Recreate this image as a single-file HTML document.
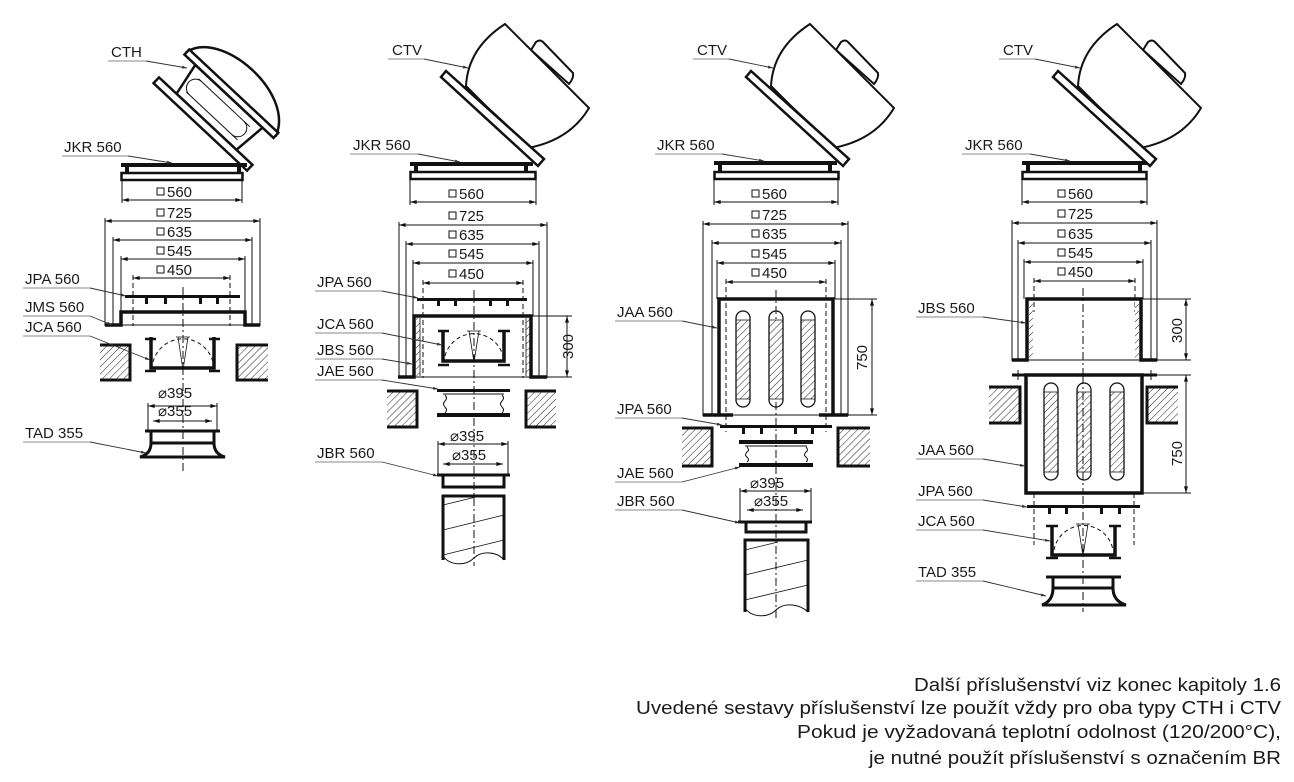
<!DOCTYPE html>
<html><head><meta charset="utf-8"><style>
html,body{margin:0;padding:0;background:#fff;}
svg{display:block;}
text{font-family:"Liberation Sans",Arial,sans-serif;fill:#1a1a1a;}
</style></head><body>
<svg width="1294" height="782" viewBox="0 0 1294 782" xmlns="http://www.w3.org/2000/svg">
<defs>
<pattern id="h" width="5" height="5" patternUnits="userSpaceOnUse" patternTransform="rotate(45)">
<rect width="5" height="5" fill="#fff"/><line x1="0" y1="0" x2="0" y2="5" stroke="#222" stroke-width="1"/></pattern>
<marker id="a" viewBox="0 0 10 6" refX="10" refY="3" markerWidth="8" markerHeight="4" orient="auto-start-reverse" markerUnits="userSpaceOnUse"><path d="M0,0 L10,3 L0,6 Z" fill="#111"/></marker>
<marker id="s" viewBox="0 0 10 6" refX="10" refY="3" markerWidth="6" markerHeight="3" orient="auto" markerUnits="userSpaceOnUse"><path d="M0,0 L10,3 L0,6 Z" fill="#333"/></marker>
<g id="ctv">
<path d="M531,50 L536,42 Q540,39 543,42 L573,73 Q574,78 569,84 Z" fill="#fff" stroke="#111" stroke-width="2"/>
<path d="M466,86 Q468,48 505,24 L589,108 Q570,140 528,148 Z" fill="#fff" stroke="#111" stroke-width="2"/>
<polygon points="441,77 446,71 544,159 538,166" fill="#fff" stroke="#111" stroke-width="2.5"/>
<line x1="465" y1="86" x2="530" y2="146" stroke="#111" stroke-width="1"/>
</g>
</defs>
<g fill="none" stroke="#111">

<!-- ================= COLUMN 1 ================= -->
<g transform="translate(203,124) rotate(43.1)">
<path d="M-61,-42 C-50,-82 45,-85 61,-42 Z" fill="#fff" stroke-width="2.5"/>
<polygon points="-40,-4 -46,-38 46,-38 42,-4" fill="#fff" stroke-width="2.5"/>
<rect x="-61" y="-45" width="122" height="7" fill="#fff" stroke-width="2.5"/>
<line x1="-34" y1="-30" x2="36" y2="-30" stroke-width="1"/>
<line x1="-34" y1="-12" x2="36" y2="-12" stroke-width="1"/>
<path d="M-30,-12 a8,8 0 0 1 0,-18 M28,-12 a8,8 0 0 0 0,-18" stroke-width="1"/>
<rect x="-64" y="-4" width="128" height="8" fill="#fff" stroke-width="2.5"/>
</g>
<rect x="121" y="163" width="126" height="4" fill="#111" stroke="none"/>
<rect x="125" y="167" width="4" height="6" fill="#111" stroke="none"/>
<rect x="237" y="167" width="4" height="6" fill="#111" stroke="none"/>
<rect x="121.5" y="173" width="121" height="7" stroke-width="2.5"/>
<g stroke-width="1">
<line x1="122" y1="180" x2="122" y2="203"/><line x1="242" y1="180" x2="242" y2="203"/>
<line x1="122" y1="200" x2="242" y2="200" marker-start="url(#a)" marker-end="url(#a)"/>
<line x1="105" y1="218" x2="105" y2="326"/><line x1="260" y1="218" x2="260" y2="326"/>
<line x1="105" y1="221" x2="260" y2="221" marker-start="url(#a)" marker-end="url(#a)"/>
<line x1="113" y1="237" x2="113" y2="326"/><line x1="252" y1="237" x2="252" y2="326"/>
<line x1="113" y1="240" x2="252" y2="240" marker-start="url(#a)" marker-end="url(#a)"/>
<line x1="121" y1="256" x2="121" y2="312"/><line x1="245" y1="256" x2="245" y2="312"/>
<line x1="121" y1="259" x2="245" y2="259" marker-start="url(#a)" marker-end="url(#a)"/>
<line x1="133" y1="275" x2="133" y2="326" stroke-dasharray="5,3"/><line x1="230" y1="275" x2="230" y2="326" stroke-dasharray="5,3"/>
<line x1="133" y1="278" x2="230" y2="278" marker-start="url(#a)" marker-end="url(#a)"/>
<line x1="183" y1="287" x2="183" y2="472" stroke-dasharray="8,3,2,3"/>
</g>
<rect x="125" y="295" width="115" height="3" fill="#111" stroke="none"/>
<g fill="#111" stroke="none"><rect x="145" y="298" width="3" height="6"/><rect x="164" y="298" width="3" height="6"/><rect x="199" y="298" width="3" height="6"/><rect x="216" y="298" width="3" height="6"/></g>
<path d="M105,325 H121 V312 H245 V325 H260" stroke-width="3.5"/>
<line x1="121" y1="325" x2="245" y2="325" stroke-width="1"/>
<path d="M151,337 V368 H214 V337" stroke-width="3.5"/>
<path d="M145,339 H156 M209,339 H220 M145,371 H156 M209,371 H220" stroke-width="2.5"/>
<path d="M153,362 A31,31 0 0 1 213,362" stroke-width="1" stroke-dasharray="4,3"/>
<path d="M183,370 L178,337 M183,370 L188,337 M176,337 H190" stroke-width="0.8"/>
<rect x="100" y="345" width="30" height="35" fill="url(#h)" stroke="none"/>
<path d="M100,345 H130 V380 H100" stroke-width="3"/>
<rect x="237" y="345" width="31" height="35" fill="url(#h)" stroke="none"/>
<path d="M268,345 H237 V380 H268" stroke-width="3"/>
<g stroke-width="1">
<line x1="148" y1="403" x2="148" y2="432"/><line x1="217" y1="403" x2="217" y2="432"/>
<line x1="148" y1="406" x2="217" y2="406" marker-start="url(#a)" marker-end="url(#a)"/>
<line x1="153" y1="421" x2="212" y2="421" marker-start="url(#a)" marker-end="url(#a)"/>
</g>
<line x1="145" y1="431" x2="220" y2="431" stroke-width="3"/>
<path d="M151,431 V443 H214 V431" stroke-width="3"/>
<path d="M151,443 Q151,454 140,457 H225 Q214,454 214,443" stroke-width="3"/>

<!-- ================= COLUMN 2 ================= -->
<use href="#ctv"/>
<rect x="410" y="162" width="123" height="4" fill="#111" stroke="none"/>
<rect x="414" y="166" width="4" height="6" fill="#111" stroke="none"/>
<rect x="524" y="166" width="4" height="6" fill="#111" stroke="none"/>
<rect x="410.5" y="172" width="125" height="7" stroke-width="2.5"/>
<g stroke-width="1">
<line x1="410" y1="179" x2="410" y2="205"/><line x1="536" y1="179" x2="536" y2="205"/>
<line x1="410" y1="202" x2="536" y2="202" marker-start="url(#a)" marker-end="url(#a)"/>
<line x1="399" y1="222" x2="399" y2="378"/><line x1="547" y1="222" x2="547" y2="378"/>
<line x1="399" y1="225" x2="547" y2="225" marker-start="url(#a)" marker-end="url(#a)"/>
<line x1="406" y1="241" x2="406" y2="378"/><line x1="539" y1="241" x2="539" y2="378"/>
<line x1="406" y1="244" x2="539" y2="244" marker-start="url(#a)" marker-end="url(#a)"/>
<line x1="413" y1="260" x2="413" y2="316"/><line x1="533" y1="260" x2="533" y2="316"/>
<line x1="413" y1="263" x2="533" y2="263" marker-start="url(#a)" marker-end="url(#a)"/>
<line x1="423" y1="280" x2="423" y2="378" stroke-dasharray="5,3"/><line x1="523" y1="280" x2="523" y2="378" stroke-dasharray="5,3"/>
<line x1="423" y1="283" x2="523" y2="283" marker-start="url(#a)" marker-end="url(#a)"/>
<line x1="474" y1="290" x2="474" y2="566" stroke-dasharray="8,3,2,3"/>
<line x1="532" y1="316" x2="572" y2="316"/><line x1="547" y1="377" x2="572" y2="377"/>
<line x1="567" y1="316" x2="567" y2="377" marker-start="url(#a)" marker-end="url(#a)"/>
</g>
<rect x="417" y="298" width="110" height="3" fill="#111" stroke="none"/>
<g fill="#111" stroke="none"><rect x="437" y="301" width="3" height="5"/><rect x="454" y="301" width="3" height="5"/><rect x="489" y="301" width="3" height="5"/><rect x="506" y="301" width="3" height="5"/></g>
<rect x="416" y="318" width="4" height="58" fill="url(#h)" stroke="none"/>
<rect x="526" y="318" width="4" height="58" fill="url(#h)" stroke="none"/>
<path d="M398,377 H414 V316 H531 V377 H547" stroke-width="3.5"/>
<line x1="414" y1="377" x2="531" y2="377" stroke-width="1"/>
<line x1="420" y1="318" x2="420" y2="376" stroke-width="0.8"/><line x1="526" y1="318" x2="526" y2="376" stroke-width="0.8"/>
<path d="M443,330 V361 H504 V330" stroke-width="3.5"/>
<path d="M438,331 H449 M498,331 H510 M438,365 H449 M498,365 H510" stroke-width="2.5"/>
<path d="M445,356 A30,30 0 0 1 503,356" stroke-width="1" stroke-dasharray="4,3"/>
<path d="M474,362 L469,331 M474,362 L479,331 M467,331 H481" stroke-width="0.8"/>
<rect x="437" y="389" width="73" height="3" fill="#111" stroke="none"/>
<line x1="443" y1="394" x2="504" y2="394" stroke-width="1"/>
<rect x="437" y="413" width="73" height="4" fill="#111" stroke="none"/>
<path d="M445,395 q3,3 0,6 q-3,3 0,6 q3,3 0,6 M502,395 q3,3 0,6 q-3,3 0,6 q3,3 0,6" stroke-width="1"/>
<rect x="387" y="391" width="30" height="36" fill="url(#h)" stroke="none"/>
<path d="M387,391 H417 V427 H387" stroke-width="3"/>
<rect x="526" y="391" width="30" height="36" fill="url(#h)" stroke="none"/>
<path d="M556,391 H526 V427 H556" stroke-width="3"/>
<g stroke-width="1">
<line x1="438" y1="441" x2="438" y2="476"/><line x1="508" y1="441" x2="508" y2="476"/>
<line x1="438" y1="444" x2="508" y2="444" marker-start="url(#a)" marker-end="url(#a)"/>
<line x1="443" y1="464" x2="503" y2="464" marker-start="url(#a)" marker-end="url(#a)"/>
</g>
<line x1="437" y1="475" x2="510" y2="475" stroke-width="3"/>
<path d="M443,475 V487 H504 V475" stroke-width="3"/>
<path d="M443,560 V496 H504 V560" stroke-width="3"/>
<path d="M443,556 C450,566 466,566 474,558 C482,550 498,552 504,560" stroke-width="1"/>
<path d="M443,505 L476,497 M443,530 L504,515 M443,555 L504,540" stroke-width="0.8"/>

<!-- ================= COLUMN 3 ================= -->
<use href="#ctv" x="305"/>
<rect x="714" y="161" width="123" height="4" fill="#111" stroke="none"/>
<rect x="718" y="165" width="4" height="7" fill="#111" stroke="none"/>
<rect x="828" y="165" width="4" height="7" fill="#111" stroke="none"/>
<rect x="714.5" y="172" width="124" height="7" stroke-width="2.5"/>
<g stroke-width="1">
<line x1="714" y1="179" x2="714" y2="205"/><line x1="838" y1="179" x2="838" y2="205"/>
<line x1="714" y1="202" x2="838" y2="202" marker-start="url(#a)" marker-end="url(#a)"/>
<line x1="703" y1="221" x2="703" y2="416"/><line x1="848" y1="221" x2="848" y2="416"/>
<line x1="703" y1="224" x2="848" y2="224" marker-start="url(#a)" marker-end="url(#a)"/>
<line x1="712" y1="240" x2="712" y2="416"/><line x1="841" y1="240" x2="841" y2="416"/>
<line x1="712" y1="243" x2="841" y2="243" marker-start="url(#a)" marker-end="url(#a)"/>
<line x1="717" y1="260" x2="717" y2="299"/><line x1="835" y1="260" x2="835" y2="299"/>
<line x1="717" y1="263" x2="835" y2="263" marker-start="url(#a)" marker-end="url(#a)"/>
<line x1="726" y1="279" x2="726" y2="432" stroke-dasharray="5,3"/><line x1="826" y1="279" x2="826" y2="432" stroke-dasharray="5,3"/>
<line x1="726" y1="282" x2="826" y2="282" marker-start="url(#a)" marker-end="url(#a)"/>
<line x1="776" y1="290" x2="776" y2="620" stroke-dasharray="8,3,2,3"/>
<line x1="835" y1="299" x2="877" y2="299"/><line x1="848" y1="415" x2="877" y2="415"/>
<line x1="872" y1="299" x2="872" y2="415" marker-start="url(#a)" marker-end="url(#a)"/>
</g>
<path d="M719,415 V299 H833 V415" stroke-width="3.5"/>
<path d="M703,415 H733 M819,415 H848" stroke-width="3.5"/>
<line x1="719" y1="415" x2="833" y2="415" stroke-width="1"/>
<g stroke-width="1.3">
<rect x="736" y="320" width="14" height="79" fill="url(#h)" stroke="none"/>
<rect x="769" y="320" width="14" height="79" fill="url(#h)" stroke="none"/>
<rect x="801" y="320" width="14" height="79" fill="url(#h)" stroke="none"/>
<rect x="736" y="311" width="14" height="96" rx="7"/>
<rect x="769" y="311" width="14" height="96" rx="7"/>
<rect x="801" y="311" width="14" height="96" rx="7"/>
<path d="M736,320 H750 M736,399 H750 M769,320 H783 M769,399 H783 M801,320 H815 M801,399 H815" stroke-width="0.8"/>
</g>
<rect x="720" y="425" width="112" height="3" fill="#111" stroke="none"/>
<g fill="#111" stroke="none"><rect x="742" y="428" width="3" height="6"/><rect x="760" y="428" width="3" height="6"/><rect x="794" y="428" width="3" height="6"/><rect x="811" y="428" width="3" height="6"/></g>
<rect x="682" y="428" width="30" height="38" fill="url(#h)" stroke="none"/>
<path d="M682,428 H712 V466 H682" stroke-width="3"/>
<rect x="838" y="428" width="32" height="38" fill="url(#h)" stroke="none"/>
<path d="M870,428 H838 V466 H870" stroke-width="3"/>
<rect x="739" y="440" width="74" height="4" fill="#111" stroke="none"/>
<line x1="745" y1="446" x2="807" y2="446" stroke-width="1"/>
<rect x="739" y="463" width="74" height="4" fill="#111" stroke="none"/>
<path d="M747,447 q3,3 0,5 q-3,3 0,5 q3,3 0,5 M806,447 q3,3 0,5 q-3,3 0,5 q3,3 0,5" stroke-width="1"/>
<g stroke-width="1">
<line x1="740" y1="488" x2="740" y2="523"/><line x1="811" y1="488" x2="811" y2="523"/>
<line x1="740" y1="491" x2="811" y2="491" marker-start="url(#a)" marker-end="url(#a)"/>
<line x1="747" y1="510" x2="803" y2="510" marker-start="url(#a)" marker-end="url(#a)"/>
</g>
<line x1="738" y1="522" x2="812" y2="522" stroke-width="3"/>
<path d="M746,522 V532 H806 V522" stroke-width="3"/>
<path d="M745,612 V540 H808 V612" stroke-width="3"/>
<path d="M745,608 C752,618 768,618 776,610 C784,602 800,604 808,612" stroke-width="1"/>
<path d="M745,550 L778,542 M745,575 L808,560 M745,600 L808,585" stroke-width="0.8"/>

<!-- ================= COLUMN 4 ================= -->
<use href="#ctv" x="612"/>
<rect x="1022" y="161" width="125" height="4" fill="#111" stroke="none"/>
<rect x="1026" y="165" width="4" height="7" fill="#111" stroke="none"/>
<rect x="1138" y="165" width="4" height="7" fill="#111" stroke="none"/>
<rect x="1022.5" y="172" width="124" height="7" stroke-width="2.5"/>
<g stroke-width="1">
<line x1="1022" y1="179" x2="1022" y2="205"/><line x1="1147" y1="179" x2="1147" y2="205"/>
<line x1="1022" y1="202" x2="1147" y2="202" marker-start="url(#a)" marker-end="url(#a)"/>
<line x1="1012" y1="220" x2="1012" y2="361"/><line x1="1157" y1="220" x2="1157" y2="361"/>
<line x1="1012" y1="223" x2="1157" y2="223" marker-start="url(#a)" marker-end="url(#a)"/>
<line x1="1018" y1="240" x2="1018" y2="361"/><line x1="1151" y1="240" x2="1151" y2="361"/>
<line x1="1018" y1="243" x2="1151" y2="243" marker-start="url(#a)" marker-end="url(#a)"/>
<line x1="1024" y1="259" x2="1024" y2="299"/><line x1="1143" y1="259" x2="1143" y2="299"/>
<line x1="1024" y1="262" x2="1143" y2="262" marker-start="url(#a)" marker-end="url(#a)"/>
<line x1="1034" y1="278" x2="1034" y2="312" stroke-dasharray="5,3"/><line x1="1135" y1="278" x2="1135" y2="312" stroke-dasharray="5,3"/>
<line x1="1034" y1="281" x2="1135" y2="281" marker-start="url(#a)" marker-end="url(#a)"/>
<line x1="1083" y1="288" x2="1083" y2="612" stroke-dasharray="8,3,2,3"/>
<line x1="1143" y1="299" x2="1191" y2="299"/><line x1="1157" y1="360" x2="1191" y2="360"/>
<line x1="1186" y1="299" x2="1186" y2="360" marker-start="url(#a)" marker-end="url(#a)"/>
<line x1="1157" y1="375" x2="1191" y2="375"/><line x1="1143" y1="493" x2="1191" y2="493"/>
<line x1="1186" y1="375" x2="1186" y2="493" marker-start="url(#a)" marker-end="url(#a)"/>
<line x1="1018" y1="370" x2="1018" y2="380"/><line x1="1151" y1="370" x2="1151" y2="380"/>
<line x1="1034" y1="493" x2="1034" y2="545" stroke-dasharray="5,3"/><line x1="1134" y1="493" x2="1134" y2="545" stroke-dasharray="5,3"/>
</g>
<rect x="1029" y="301" width="4" height="58" fill="url(#h)" stroke="none"/>
<rect x="1135" y="301" width="4" height="58" fill="url(#h)" stroke="none"/>
<path d="M1012,360 H1027 V299 H1141 V360 H1157" stroke-width="3.5"/>
<line x1="1027" y1="360" x2="1141" y2="360" stroke-width="1"/>
<path d="M1012,375 H1157" stroke-width="3"/>
<rect x="1026" y="375" width="116" height="118" fill="#fff" stroke-width="3.5"/>
<g stroke-width="1.3">
<rect x="1044" y="392" width="14" height="80" fill="url(#h)" stroke="none"/>
<rect x="1077" y="392" width="14" height="80" fill="url(#h)" stroke="none"/>
<rect x="1110" y="392" width="14" height="80" fill="url(#h)" stroke="none"/>
<rect x="1044" y="383" width="14" height="97" rx="7"/>
<rect x="1077" y="383" width="14" height="97" rx="7"/>
<rect x="1110" y="383" width="14" height="97" rx="7"/>
<path d="M1044,392 H1058 M1044,472 H1058 M1077,392 H1091 M1077,472 H1091 M1110,392 H1124 M1110,472 H1124" stroke-width="0.8"/>
</g>
<line x1="1083" y1="376" x2="1083" y2="492" stroke-width="1" stroke-dasharray="8,3,2,3"/>
<rect x="989" y="387" width="31" height="36" fill="url(#h)" stroke="none"/>
<path d="M989,387 H1020 V423 H989" stroke-width="3"/>
<rect x="1147" y="387" width="31" height="36" fill="url(#h)" stroke="none"/>
<path d="M1178,387 H1147 V423 H1178" stroke-width="3"/>
<rect x="1027" y="505" width="113" height="3" fill="#111" stroke="none"/>
<g fill="#111" stroke="none"><rect x="1048" y="508" width="3" height="6"/><rect x="1065" y="508" width="3" height="6"/><rect x="1100" y="508" width="3" height="6"/><rect x="1118" y="508" width="3" height="6"/></g>
<path d="M1052,525 V555 H1115 V525" stroke-width="3.5"/>
<path d="M1046,526 H1058 M1109,526 H1121 M1046,558 H1058 M1109,558 H1121" stroke-width="2.5"/>
<path d="M1054,550 A30,30 0 0 1 1113,550" stroke-width="1" stroke-dasharray="4,3"/>
<path d="M1083,556 L1078,524 M1083,556 L1088,524 M1076,524 H1090" stroke-width="0.8"/>
<line x1="1046" y1="577" x2="1121" y2="577" stroke-width="3"/>
<path d="M1053,577 V588 H1113 V577" stroke-width="3"/>
<path d="M1053,588 Q1053,601 1042,605 H1126 Q1113,601 1113,588" stroke-width="3"/>

<!-- ================= LEADERS ================= -->
<g stroke="#888" stroke-width="1">
<line x1="108" y1="61" x2="146" y2="61"/>
<line x1="62" y1="156" x2="128" y2="156"/>
<line x1="23" y1="288" x2="90" y2="288"/>
<line x1="23" y1="316" x2="90" y2="316"/>
<line x1="23" y1="336" x2="90" y2="336"/>
<line x1="23" y1="442" x2="90" y2="442"/>
<line x1="388" y1="59" x2="424" y2="59"/>
<line x1="350" y1="154" x2="418" y2="154"/>
<line x1="315" y1="291" x2="382" y2="291"/>
<line x1="315" y1="333" x2="382" y2="333"/>
<line x1="315" y1="359" x2="382" y2="359"/>
<line x1="315" y1="380" x2="382" y2="380"/>
<line x1="315" y1="462" x2="382" y2="462"/>
<line x1="693" y1="59" x2="729" y2="59"/>
<line x1="655" y1="154" x2="722" y2="154"/>
<line x1="615" y1="321" x2="682" y2="321"/>
<line x1="615" y1="418" x2="682" y2="418"/>
<line x1="615" y1="482" x2="682" y2="482"/>
<line x1="615" y1="510" x2="682" y2="510"/>
<line x1="999" y1="59" x2="1035" y2="59"/>
<line x1="962" y1="154" x2="1030" y2="154"/>
<line x1="916" y1="317" x2="983" y2="317"/>
<line x1="916" y1="459" x2="983" y2="459"/>
<line x1="916" y1="500" x2="983" y2="500"/>
<line x1="916" y1="530" x2="983" y2="530"/>
<line x1="916" y1="581" x2="983" y2="581"/>
</g>
<g stroke="#333" stroke-width="0.9" marker-end="url(#s)">
<line x1="146" y1="61" x2="187" y2="68"/>
<line x1="128" y1="156" x2="172" y2="163"/>
<line x1="90" y1="288" x2="126" y2="296"/>
<line x1="90" y1="316" x2="112" y2="325"/>
<line x1="90" y1="336" x2="150" y2="360"/>
<line x1="90" y1="442" x2="146" y2="453"/>
<line x1="424" y1="59" x2="468" y2="68"/>
<line x1="418" y1="154" x2="460" y2="162"/>
<line x1="382" y1="291" x2="418" y2="298"/>
<line x1="382" y1="333" x2="442" y2="345"/>
<line x1="382" y1="359" x2="412" y2="364"/>
<line x1="382" y1="380" x2="438" y2="389"/>
<line x1="382" y1="462" x2="438" y2="476"/>
<line x1="729" y1="59" x2="773" y2="68"/>
<line x1="722" y1="154" x2="764" y2="161"/>
<line x1="682" y1="321" x2="717" y2="328"/>
<line x1="682" y1="418" x2="722" y2="425"/>
<line x1="682" y1="482" x2="740" y2="467"/>
<line x1="682" y1="510" x2="740" y2="523"/>
<line x1="1035" y1="59" x2="1080" y2="68"/>
<line x1="1030" y1="154" x2="1070" y2="161"/>
<line x1="983" y1="317" x2="1026" y2="323"/>
<line x1="983" y1="459" x2="1025" y2="466"/>
<line x1="983" y1="500" x2="1027" y2="507"/>
<line x1="983" y1="530" x2="1050" y2="541"/>
<line x1="983" y1="581" x2="1046" y2="596"/>
</g>

<g stroke-width="1">
<rect x="157" y="188" width="7" height="7"/><rect x="157" y="209" width="7" height="7"/><rect x="157" y="228" width="7" height="7"/><rect x="157" y="247" width="7" height="7"/><rect x="157" y="266" width="7" height="7"/>
<rect x="449" y="190" width="7" height="7"/><rect x="449" y="212" width="7" height="7"/><rect x="449" y="231" width="7" height="7"/><rect x="449" y="250" width="7" height="7"/><rect x="449" y="270" width="7" height="7"/>
<rect x="752" y="190" width="7" height="7"/><rect x="752" y="211" width="7" height="7"/><rect x="752" y="230" width="7" height="7"/><rect x="752" y="250" width="7" height="7"/><rect x="752" y="269" width="7" height="7"/>
<rect x="1058" y="190" width="7" height="7"/><rect x="1058" y="210" width="7" height="7"/><rect x="1058" y="230" width="7" height="7"/><rect x="1058" y="249" width="7" height="7"/><rect x="1058" y="268" width="7" height="7"/>
</g>
</g>

<!-- ================= TEXT ================= -->
<g font-size="15">
<text x="111" y="57">CTH</text>
<text x="64" y="152">JKR 560</text>
<text x="25" y="284">JPA 560</text>
<text x="25" y="312">JMS 560</text>
<text x="25" y="332">JCA 560</text>
<text x="25" y="438">TAD 355</text>
<text x="167" y="197">560</text><text x="167" y="218">725</text><text x="167" y="237">635</text><text x="167" y="256">545</text><text x="167" y="275">450</text>
<text x="158" y="398">⌀395</text><text x="158" y="416">⌀355</text>

<text x="392" y="55">CTV</text>
<text x="353" y="150">JKR 560</text>
<text x="317" y="287">JPA 560</text>
<text x="317" y="329">JCA 560</text>
<text x="317" y="355">JBS 560</text>
<text x="317" y="376">JAE 560</text>
<text x="317" y="458">JBR 560</text>
<text x="459" y="199">560</text><text x="459" y="221">725</text><text x="459" y="240">635</text><text x="459" y="259">545</text><text x="459" y="279">450</text>
<text x="450" y="441">⌀395</text><text x="452" y="460">⌀355</text>
<text transform="translate(573,359) rotate(-90)">300</text>

<text x="697" y="55">CTV</text>
<text x="657" y="150">JKR 560</text>
<text x="617" y="317">JAA 560</text>
<text x="617" y="414">JPA 560</text>
<text x="617" y="478">JAE 560</text>
<text x="617" y="506">JBR 560</text>
<text x="762" y="199">560</text><text x="762" y="220">725</text><text x="762" y="239">635</text><text x="762" y="259">545</text><text x="762" y="278">450</text>
<text x="750" y="488">⌀395</text><text x="754" y="506">⌀355</text>
<text transform="translate(867,370) rotate(-90)">750</text>

<text x="1003" y="55">CTV</text>
<text x="965" y="150">JKR 560</text>
<text x="918" y="313">JBS 560</text>
<text x="918" y="455">JAA 560</text>
<text x="918" y="496">JPA 560</text>
<text x="918" y="526">JCA 560</text>
<text x="918" y="577">TAD 355</text>
<text x="1068" y="199">560</text><text x="1068" y="219">725</text><text x="1068" y="239">635</text><text x="1068" y="258">545</text><text x="1068" y="277">450</text>
<text transform="translate(1182,343) rotate(-90)">300</text>
<text transform="translate(1182,466) rotate(-90)">750</text>
</g>

<g font-size="18" text-anchor="end">
<text x="1281" y="691" textLength="367" lengthAdjust="spacingAndGlyphs">Další příslušenství viz konec kapitoly 1.6</text>
<text x="1281" y="714" textLength="645" lengthAdjust="spacingAndGlyphs">Uvedené sestavy příslušenství lze použít vždy pro oba typy CTH i CTV</text>
<text x="1281" y="738" textLength="484" lengthAdjust="spacingAndGlyphs">Pokud je vyžadovaná teplotní odolnost (120/200°C),</text>
<text x="1281" y="764" textLength="412" lengthAdjust="spacingAndGlyphs">je nutné použít příslušenství s označením BR</text>
</g>
</svg>
</body></html>
